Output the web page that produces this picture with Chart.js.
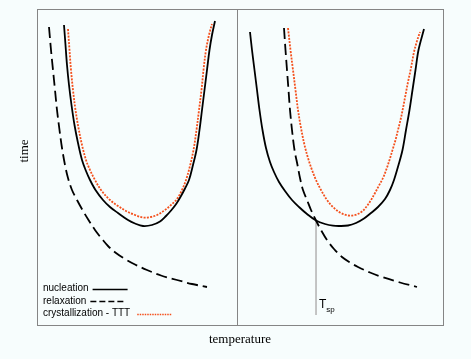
<!DOCTYPE html>
<html>
<head>
<meta charset="utf-8">
<script src="https://cdn.jsdelivr.net/npm/chart.js@4/dist/chart.umd.min.js"></script>
<style>
  html, body { margin: 0; padding: 0; background: #f7fdfd; }
  canvas { display: block; }
</style>
</head>
<body>
<canvas id="c" width="471" height="359"></canvas>
<script>
// ---- data (arbitrary temperature / time units) ----
const xTitle = 'temperature';
const yTitle = 'time';
const seriesLabels = ['nucleation', 'relaxation', 'crystallization - TTT'];
const tspLabel = 'T';
const tspSub = 'sp';

// left panel
const nucLeftTemp = [13.5, 14.25, 15, 16, 17.25, 18.75, 20.5, 22.5, 24.5, 26.5, 29.25, 33, 36.5, 40.5, 45.5, 49, 53,
  57.5, 61.5, 64.5, 67.25, 69.75, 72, 74, 76, 78, 79.75, 81.25, 82.5, 83.75, 85, 86.25, 87.5, 89];
const nucLeftTime = [150, 140, 130, 120, 110, 100, 91, 82.5, 77, 72.5, 67.5, 62.5, 59, 56, 52.5, 50.75, 49.5,
  50, 51.75, 54.5, 57.5, 60.75, 64.5, 68.25, 72.5, 80, 87.5, 97.5, 107.5, 117.5, 127.5, 137.5, 145, 152];

const relLeftTemp = [6, 7, 8, 9, 10, 11.25, 12.5, 14, 15.5, 17.5, 20, 22.75, 25.75, 29, 32.5, 35.5, 39.5, 44, 49, 55, 62, 70, 77.5, 85];
const relLeftTime = [149, 137.5, 127.5, 117.5, 107.5, 97.5, 88.5, 80, 73.5, 67.5, 62.5, 57.5, 52.5, 47.5, 43, 39.5, 36, 33, 30.25, 27.5, 24.75, 22.5, 20.5, 19];

const cryLeftTemp = [15.5, 16.25, 17, 18, 19.25, 20.75, 22.5, 24.5, 26.5, 29, 32, 36.5, 40.5, 45, 49, 53,
  57, 60.5, 64, 67, 70, 72.5, 74.5, 76.5, 78.25, 79.75, 81, 82.25, 83.25, 84.5, 86, 87.5];
const cryLeftTime = [148, 137.5, 127.5, 117.5, 107.5, 98.5, 90, 82.5, 77.5, 72.5, 67.5, 62.5, 59.5, 56.75, 55, 53.75,
  54, 55.25, 57.5, 60, 63, 67.5, 72.5, 79.5, 87.5, 97.5, 107.5, 117.5, 127.5, 137.5, 145, 150.5];

// right panel
const nucRightTemp = [106.5, 107.5, 108.75, 110, 111.25, 112.75, 114.5, 116.5, 118.5, 121, 124, 127.5, 131, 135, 139.5, 144, 148, 151.5,
  155.5, 159.5, 163.5, 167, 170.5, 174, 176.5, 178.5, 180.75, 182.75, 184.5, 186.25, 187.75, 189.25, 190.75, 193.5];
const nucRightTime = [146.5, 137.5, 127.5, 117.5, 107.5, 97.5, 88.5, 81.5, 76.5, 71.5, 67, 62.5, 59, 55.5, 52.25, 50.5, 49.65, 49.5,
  49.75, 51, 53.25, 56, 59, 63, 67.5, 72.5, 80, 87.5, 97.5, 107.5, 117.5, 127.5, 137.5, 148];

const relRightTemp = [123.5, 124.25, 125, 125.75, 126.5, 127.5, 128.75, 130.25, 131.5, 133, 135, 137, 139.5, 142, 145, 148.5, 152.5, 156.5, 160.5, 166.5, 172.5, 181.5, 190];
const relRightTime = [148.5, 137.5, 127.5, 117.5, 107.5, 97.5, 87.5, 80, 73.5, 67.5, 62.5, 57.5, 52.25, 47.5, 42.5, 38, 34, 31.25, 29, 26.25, 24, 21.25, 19];

const cryRightTemp = [125.5, 126.75, 128, 129.25, 130.5, 132, 133.75, 135.5, 137.5, 139.5, 142, 145, 148, 151.5, 155.5,
  159, 162.5, 165, 167, 169, 171, 173, 174.75, 176.25, 177.75, 179.25, 180.5, 181.75, 183, 184.25, 185.5, 187, 188.5, 190, 191.5];
const cryRightTime = [148.5, 137.5, 127.5, 117.5, 107.5, 98.5, 90, 83.5, 77.5, 72.5, 67.5, 62.5, 59, 56.25, 54.75,
  55, 56.75, 59.5, 62.5, 66, 69.75, 73.5, 78, 82.5, 87.5, 92.5, 97.5, 102.5, 108.5, 115, 121.5, 128.5, 136.5, 142, 146.5];

// spinodal temperature marker
const tspTemp = [139.5, 139.5];
const tspTime = [52.25, 5];

// axis ranges / frame ticks
const xRange = [0, 203];
const yRange = [0, 158];
const xFrameTicks = [0, 100, 203];
const yFrameTicks = [0, 158];

// ---- helpers ----
const pts = (xs, ys) => xs.map((x, i) => ({x, y: ys[i]}));
const FRAME = '#858585';
const ORANGE = '#f4501c';

const solid = {borderColor: '#000', borderWidth: 1.8, borderDash: [], legendDash: []};
const dashed = {borderColor: '#000', borderWidth: 1.8, borderDash: [11, 5], legendDash: [6, 3]};
const dotted = {borderColor: ORANGE, borderWidth: 1.8, borderDash: [2, 1.3], legendDash: [1.5, 1]};

function ds(label, xs, ys, style) {
  return Object.assign({label, data: pts(xs, ys), pointRadius: 0, tension: 0.35, fill: false}, style);
}

const datasets = [
  ds(seriesLabels[0], nucLeftTemp, nucLeftTime, solid),
  ds(seriesLabels[1], relLeftTemp, relLeftTime, dashed),
  ds(seriesLabels[2], cryLeftTemp, cryLeftTime, dotted),
  ds(seriesLabels[0], nucRightTemp, nucRightTime, solid),
  ds(seriesLabels[1], relRightTemp, relRightTime, dashed),
  ds(seriesLabels[2], cryRightTemp, cryRightTime, dotted),
  Object.assign(ds('Tsp', tspTemp, tspTime, {borderColor: '#bcbcbc', borderWidth: 1, borderDash: []}), {tension: 0})
];

const overlay = {
  id: 'overlay',
  afterDatasetsDraw(chart) {
    const {ctx, chartArea, scales} = chart;
    ctx.save();
    // y axis title
    ctx.fillStyle = '#000';
    ctx.font = '13px "Liberation Serif"';
    ctx.textAlign = 'center';
    ctx.textBaseline = 'middle';
    ctx.translate(chartArea.left - 12, chartArea.top + 142);
    ctx.rotate(-Math.PI / 2);
    ctx.fillText(yTitle, 0, 0);
    ctx.restore();

    // legend (left panel)
    ctx.save();
    ctx.font = '10px "Liberation Sans"';
    ctx.textAlign = 'left';
    ctx.textBaseline = 'middle';
    const rows = [chartArea.bottom - 36.5, chartArea.bottom - 24, chartArea.bottom - 11.5];
    for (let i = 0; i < 3; i++) {
      const d = chart.data.datasets[i];
      const x0 = chartArea.left + 6;
      ctx.fillStyle = '#000';
      ctx.fillText(d.label, x0, rows[i]);
      const w = ctx.measureText(d.label).width;
      const sx = x0 + w + (i === 2 ? 7 : 4);
      ctx.beginPath();
      ctx.strokeStyle = d.borderColor;
      ctx.lineWidth = 1.5;
      ctx.setLineDash(d.legendDash);
      ctx.moveTo(sx, Math.round(rows[i]) + 0.5);
      ctx.lineTo(sx + 35, Math.round(rows[i]) + 0.5);
      ctx.stroke();
    }
    ctx.restore();

    // T_sp label
    ctx.save();
    const tx = scales.x.getPixelForValue(tspTemp[1]) + 3;
    const ty = scales.y.getPixelForValue(tspTime[1]) - 10;
    ctx.fillStyle = '#000';
    ctx.textAlign = 'left';
    ctx.textBaseline = 'middle';
    ctx.font = '12px "Liberation Sans"';
    ctx.fillText(tspLabel, tx, ty);
    const tw = ctx.measureText(tspLabel).width;
    ctx.font = '8px "Liberation Sans"';
    ctx.fillText(tspSub, tx + tw, ty + 5);
    ctx.restore();
  }
};

new Chart(document.getElementById('c'), {
  type: 'line',
  data: {datasets},
  plugins: [overlay],
  options: {
    responsive: false,
    animation: false,
    devicePixelRatio: 1,
    layout: {padding: {left: 37, top: 9, right: 28, bottom: 10.4}},
    plugins: {legend: {display: false}, tooltip: {enabled: false}},
    scales: {
      x: {
        type: 'linear', min: xRange[0], max: xRange[1],
        afterBuildTicks: s => { s.ticks = xFrameTicks.map(v => ({value: v})); },
        ticks: {display: false},
        grid: {color: FRAME, lineWidth: 1, drawTicks: false},
        border: {color: FRAME, width: 1},
        title: {display: true, text: xTitle, color: '#000',
          font: {family: 'Liberation Serif', size: 13}, padding: {top: 7, bottom: 1}}
      },
      y: {
        type: 'linear', min: yRange[0], max: yRange[1],
        afterBuildTicks: s => { s.ticks = yFrameTicks.map(v => ({value: v})); },
        ticks: {display: false},
        grid: {color: FRAME, lineWidth: 1, drawTicks: false},
        border: {color: FRAME, width: 1}
      }
    }
  }
});
</script>
</body>
</html>
